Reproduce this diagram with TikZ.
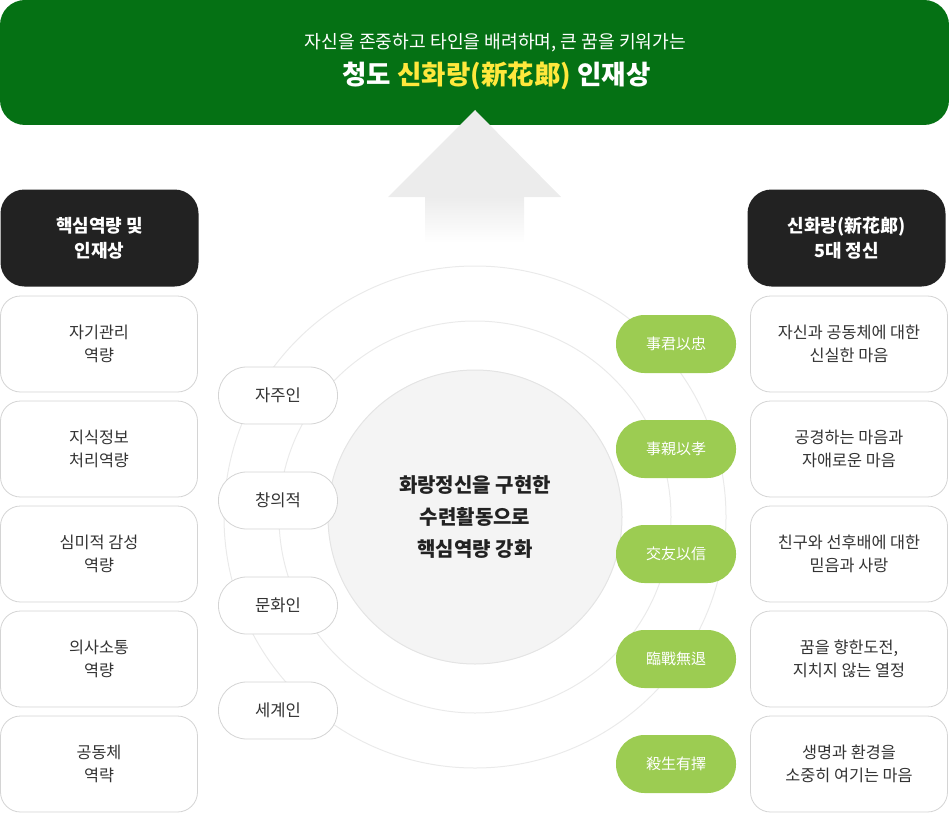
\documentclass[tikz,border=0pt]{standalone}
\usepackage{fontspec}
\setmainfont{Noto Sans CJK KR}
\usetikzlibrary{shapes.misc}
\definecolor{bannergreen}{RGB}{5,113,20}
\definecolor{titleyellow}{RGB}{255,232,60}
\definecolor{pillgreen}{RGB}{156,204,82}
\definecolor{headdark}{RGB}{34,34,34}
\definecolor{boxline}{RGB}{212,212,212}
\definecolor{ringline}{RGB}{234,234,234}
\definecolor{corefill}{RGB}{244,244,244}
\definecolor{coreline}{RGB}{228,228,228}
\definecolor{arrowgray}{RGB}{236,236,236}
\definecolor{textdark}{RGB}{51,51,51}
\tikzset{
  darkhead/.style={fill=headdark, text=white, rounded corners=24pt, minimum width=198pt, minimum height=97pt, align=center, font=\fontsize{18}{25}\selectfont\bfseries, inner sep=0pt},
  infobox/.style={draw=boxline, line width=0.8pt, fill=white, rounded corners=20pt, minimum width=197pt, minimum height=96pt, align=center, text=textdark, font=\fontsize{16.3}{23}\selectfont, inner sep=0pt},
  whitepill/.style={draw=boxline, line width=0.8pt, fill=white, rounded corners=28pt, minimum width=119pt, minimum height=57pt, text=textdark, font=\fontsize{16.6}{18}\selectfont, inner sep=0pt},
  greenpill/.style={fill=pillgreen, rounded corners=28.5pt, minimum width=120pt, minimum height=58pt, text=white, font=\fontsize{15}{18}\selectfont, inner sep=0pt},
  ring/.style={draw=ringline, line width=1pt},
}
\begin{document}
\begin{tikzpicture}[x=1pt,y=-1pt]
\useasboundingbox (0,0) rectangle (949,813);
% rings
\coordinate (ctr) at (475,517);
\draw[ring] (ctr) circle[radius=251];
\draw[ring] (ctr) circle[radius=196];
\node[circle, fill=corefill, draw=coreline, line width=1pt, minimum size=294pt, inner sep=0pt, align=center, text=headdark, font=\fontsize{20}{31.7}\selectfont\bfseries] (core) at (ctr) {화랑정신을 구현한\\수련활동으로\\핵심역량 강화};
% banner
\node[fill=bannergreen, rounded corners=25pt, minimum width=949pt, minimum height=125pt, inner sep=0pt] (banner) at (474.5,62.5) {};
\node[text=white, font=\fontsize{18.2}{20}\selectfont, inner sep=0pt] (sub) at (495.5,43) {자신을 존중하고 타인을 배려하며, 큰 꿈을 키워가는};
\node[text=white, font=\fontsize{26.5}{30}\selectfont\bfseries, inner sep=0pt] (title) at (496.5,76) {청도 \textcolor{titleyellow}{신화랑(新花郞)} 인재상};
% arrow
\fill[arrowgray] (475,110) -- (561,197) -- (388,197) -- cycle;
\shade[top color=arrowgray, bottom color=white] (425,196.5) rectangle (524,243);
% headers
\node[darkhead] (lh) at (99.5,238) {핵심역량 및\\인재상};
\node[darkhead] (rh) at (846.5,238) {신화랑(新花郞)\\5대 정신};
% left boxes
\node[infobox] (l1) at (99,344) {자기관리\\역량};
\node[infobox] (l2) at (99,449) {지식정보\\처리역량};
\node[infobox] (l3) at (99,554) {심미적 감성\\역량};
\node[infobox] (l4) at (99,659) {의사소통\\역량};
\node[infobox] (l5) at (99,764) {공동체\\역략};
% right boxes
\node[infobox] (r1) at (849,344) {자신과 공동체에 대한\\신실한 마음};
\node[infobox] (r2) at (849,449) {공경하는 마음과\\자애로운 마음};
\node[infobox] (r3) at (849,554) {친구와 선후배에 대한\\믿음과 사랑};
\node[infobox] (r4) at (849,659) {꿈을 향한도전,\\지치지 않는 열정};
\node[infobox] (r5) at (849,764) {생명과 환경을\\소중히 여기는 마음};
% white pills
\node[whitepill] (w1) at (278,395.5) {자주인};
\node[whitepill] (w2) at (278,500.5) {창의적};
\node[whitepill] (w3) at (278,605.5) {문화인};
\node[whitepill] (w4) at (278,710.5) {세계인};
% green pills
\node[greenpill] (g1) at (676,344) {事君以忠};
\node[greenpill] (g2) at (676,449) {事親以孝};
\node[greenpill] (g3) at (676,554) {交友以信};
\node[greenpill] (g4) at (676,659) {臨戰無退};
\node[greenpill] (g5) at (676,764) {殺生有擇};
\end{tikzpicture}
\end{document}
